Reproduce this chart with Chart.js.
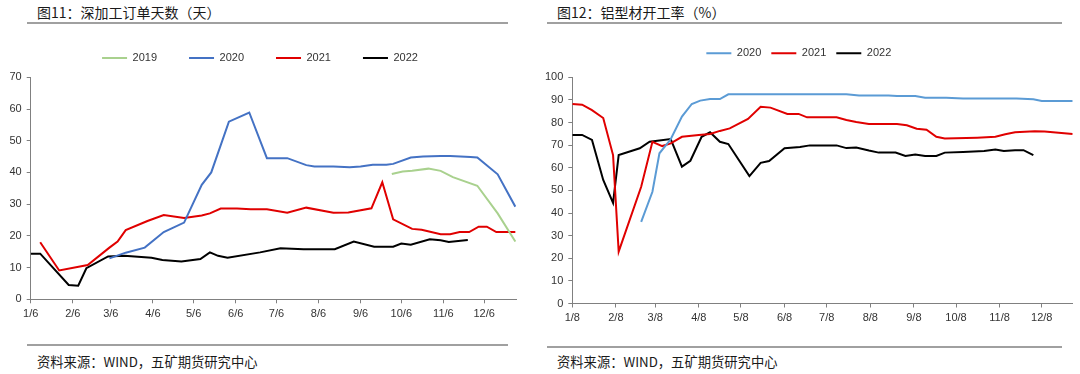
<!DOCTYPE html>
<html>
<head>
<meta charset="utf-8">
<script src="https://cdn.jsdelivr.net/npm/chart.js@4.4.0/dist/chart.umd.min.js"></script>
<style>
  body { margin: 0; background: #fff; width: 1080px; height: 374px; overflow: hidden; position: relative; font-family: "Noto Sans CJK SC", sans-serif; }
  canvas { position: absolute; top: 0; }
  .title, .source { position: absolute; line-height: 17px; color: #1a1a1a; white-space: nowrap; }
  .title { font-size: 14px; }
  .source { font-size: 13.3px; }
  .rule { position: absolute; height: 2px; background: #a0a0a0; }
</style>
</head>
<body>
<div class="title" style="left:37px;top:4px">图11：深加工订单天数（天）</div>
<div class="rule" style="left:27px;width:481px;top:22px"></div>
<div class="rule" style="left:27px;width:481px;top:344px"></div>
<div class="source" style="left:37px;top:353px">资料来源：WIND，五矿期货研究中心</div>

<div class="title" style="left:557px;top:4px">图12：铝型材开工率（%）</div>
<div class="rule" style="left:547px;width:515px;top:22px"></div>
<div class="rule" style="left:547px;width:515px;top:346px"></div>
<div class="source" style="left:557px;top:353px">资料来源：WIND，五矿期货研究中心</div>

<canvas id="orders" width="540" height="374" style="left:0"></canvas>
<canvas id="rate" width="540" height="374" style="left:540px"></canvas>

<script>
// x values are days counted from the first label (1/6 or 1/8)
const monthTicks = [0, 31, 59, 90, 120, 151, 181, 212, 243, 273, 304, 334];
const orderTickLabels = ['1/6', '2/6', '3/6', '4/6', '5/6', '6/6', '7/6', '8/6', '9/6', '10/6', '11/6', '12/6'];
const rateTickLabels = ['1/8', '2/8', '3/8', '4/8', '5/8', '6/8', '7/8', '8/8', '9/8', '10/8', '11/8', '12/8'];

// 图11 深加工订单天数
const orderDays2019 = [266, 274, 281, 293, 302, 311, 329, 344, 357];
const orders2019 = [39.5, 40.3, 40.5, 41.2, 40.5, 38.5, 35.8, 27.1, 18.2];
const orderDays2020 = [58, 70, 84, 98, 113, 126, 133, 146, 161, 174, 189, 203, 209, 223, 235, 243, 252, 262, 267, 280, 289, 302, 309, 324, 329, 344, 357];
const orders2020 = [12.9, 14.7, 16.3, 21.2, 24.2, 36.1, 40.0, 56.0, 58.9, 44.5, 44.5, 42.3, 41.9, 41.9, 41.6, 41.9, 42.4, 42.4, 42.7, 44.7, 45.0, 45.2, 45.2, 44.9, 44.7, 39.4, 29.2];
const orderDays2021 = [7, 21, 42, 58, 64, 70, 86, 98, 113, 126, 132, 140, 152, 162, 174, 189, 203, 223, 234, 251, 259, 267, 281, 288, 302, 309, 316, 323, 330, 336, 343, 357];
const orders2021 = [18.0, 9.1, 10.8, 16.3, 18.2, 21.8, 24.7, 26.6, 25.6, 26.4, 27.1, 28.6, 28.6, 28.4, 28.4, 27.3, 28.9, 27.3, 27.4, 28.7, 36.9, 25.2, 22.2, 21.9, 20.5, 20.5, 21.2, 21.2, 22.9, 22.9, 21.2, 21.2];
const orderDays2022 = [0, 7, 28, 35, 41, 57, 69, 89, 97, 111, 125, 132, 138, 145, 169, 184, 201, 224, 238, 253, 267, 273, 280, 294, 302, 308, 322];
const orders2022 = [14.4, 14.4, 4.5, 4.3, 9.8, 13.5, 13.7, 13.1, 12.4, 11.9, 12.7, 14.8, 13.7, 13.1, 14.8, 16.1, 15.8, 15.8, 18.2, 16.6, 16.6, 17.6, 17.2, 18.9, 18.6, 18.1, 18.7];

// 图12 铝型材开工率
const rateDays2020 = [49, 57, 62, 70, 78, 85, 91, 98, 105, 111, 195, 204, 225, 231, 244, 251, 266, 278, 316, 328, 334, 356];
const rate2020 = [36.1, 49.4, 66.4, 72.6, 82.6, 88.2, 89.7, 90.4, 90.4, 92.5, 92.5, 92, 92, 91.7, 91.7, 91, 91, 90.6, 90.6, 90.3, 89.5, 89.5];
const rateDays2021 = [0, 7, 14, 22, 29, 33, 49, 57, 64, 70, 78, 90, 98, 105, 112, 125, 134, 141, 153, 161, 167, 188, 195, 202, 211, 231, 238, 245, 252, 259, 265, 288, 301, 308, 315, 329, 336, 356];
const rate2021 = [88.2, 87.9, 85.5, 82, 65.6, 22.9, 51.6, 71.5, 69.6, 70.8, 73.7, 74.5, 74.9, 76.3, 77.4, 81.6, 87, 86.6, 83.8, 83.8, 82.3, 82.3, 81.1, 80.2, 79.4, 79.4, 78.8, 77.3, 76.8, 73.7, 72.9, 73.3, 73.7, 74.8, 75.7, 76.1, 76.0, 74.9];
const rateDays2022 = [0, 7, 14, 22, 29, 33, 48, 55, 70, 78, 84, 92, 98, 105, 111, 126, 134, 140, 151, 162, 169, 188, 195, 202, 211, 218, 230, 237, 244, 251, 259, 265, 278, 293, 301, 307, 315, 321, 328];
const rate2022 = [74.5, 74.5, 72.3, 54.6, 44.5, 65.6, 68.6, 71.5, 72.7, 60.5, 63.1, 73.7, 75.7, 71.5, 70.5, 56.3, 62.2, 63.0, 68.6, 69.2, 69.9, 69.9, 68.7, 69.0, 67.6, 66.7, 66.7, 65.2, 65.9, 65.2, 65.2, 66.7, 67.0, 67.4, 68.1, 67.4, 67.8, 67.8, 65.6];

Chart.defaults.font.family = '"Liberation Sans", Arial, sans-serif';
Chart.defaults.font.size = 11;

const pts = (days, vals) => days.map((d, i) => ({ x: d, y: vals[i] }));

function series(label, days, vals, color) {
    return {
        label: label,
        data: pts(days, vals),
        borderColor: color,
        backgroundColor: color,
        borderWidth: 2,
        pointRadius: 0,
        tension: 0
    };
}

// moves the legend row to a fixed centre point after layout
const legendPlacer = {
    id: 'legendPlacer',
    afterLayout(chart, args, opts) {
        const lg = chart.legend;
        const w = lg.right - lg.left, h = lg.bottom - lg.top;
        const pad = lg.options.labels.padding;
        lg.left = opts.x - w / 2;
        lg.right = lg.left + w;
        lg.top = opts.y - pad - 5.5;
        lg.bottom = lg.top + h;
    }
};

function buildChart(id, datasets, tickLabels, xMax, yMax, box) {
    return new Chart(document.getElementById(id), {
        type: 'line',
        data: { datasets: datasets },
        plugins: [legendPlacer],
        options: {
            responsive: false,
            animation: false,
            devicePixelRatio: 1,
            layout: { padding: box.padding },
            plugins: {
                tooltip: { enabled: false },
                legend: {
                    labels: {
                        usePointStyle: true,
                        pointStyle: 'line',
                        pointStyleWidth: 25,
                        padding: box.legendGap,
                        color: '#333',
                        font: { size: 11 }
                    }
                },
                legendPlacer: { x: box.legendX, y: box.legendY }
            },
            scales: {
                x: {
                    type: 'linear',
                    min: 0,
                    max: xMax,
                    afterBuildTicks: s => { s.ticks = monthTicks.map(v => ({ value: v })); },
                    afterFit: s => { s.height = 30; },
                    ticks: {
                        autoSkip: false,
                        maxRotation: 0,
                        padding: 4,
                        color: '#333',
                        callback: v => tickLabels[monthTicks.indexOf(v)]
                    },
                    grid: { drawOnChartArea: false, tickLength: 4, color: '#808080' },
                    border: { color: '#808080' }
                },
                y: {
                    min: 0,
                    max: yMax,
                    afterFit: s => { s.width = box.yWidth; },
                    ticks: { stepSize: 10, padding: 5, color: '#333' },
                    grid: { drawOnChartArea: false, tickLength: 4, color: '#808080' },
                    border: { color: '#808080' }
                }
            }
        }
    });
}

buildChart('orders', [
    series('2019', orderDays2019, orders2019, '#a9d18e'),
    series('2020', orderDays2020, orders2020, '#4472c4'),
    series('2021', orderDays2021, orders2021, '#e00000'),
    series('2022', orderDays2022, orders2022, '#000000')
], orderTickLabels, 357.5, 70, {
    padding: { top: 24.3, left: 0, right: 24, bottom: 44.7 },
    yWidth: 30.7, legendGap: 32, legendX: 260, legendY: 58
});

buildChart('rate', [
    series('2020', rateDays2020, rate2020, '#5b9bd5'),
    series('2021', rateDays2021, rate2021, '#e00000'),
    series('2022', rateDays2022, rate2022, '#000000')
], rateTickLabels, 356, 100, {
    padding: { top: 46.3, left: 0, right: 7.3, bottom: 40.5 },
    yWidth: 32.3, legendGap: 10, legendX: 258.8, legendY: 53.3
});
</script>
</body>
</html>
